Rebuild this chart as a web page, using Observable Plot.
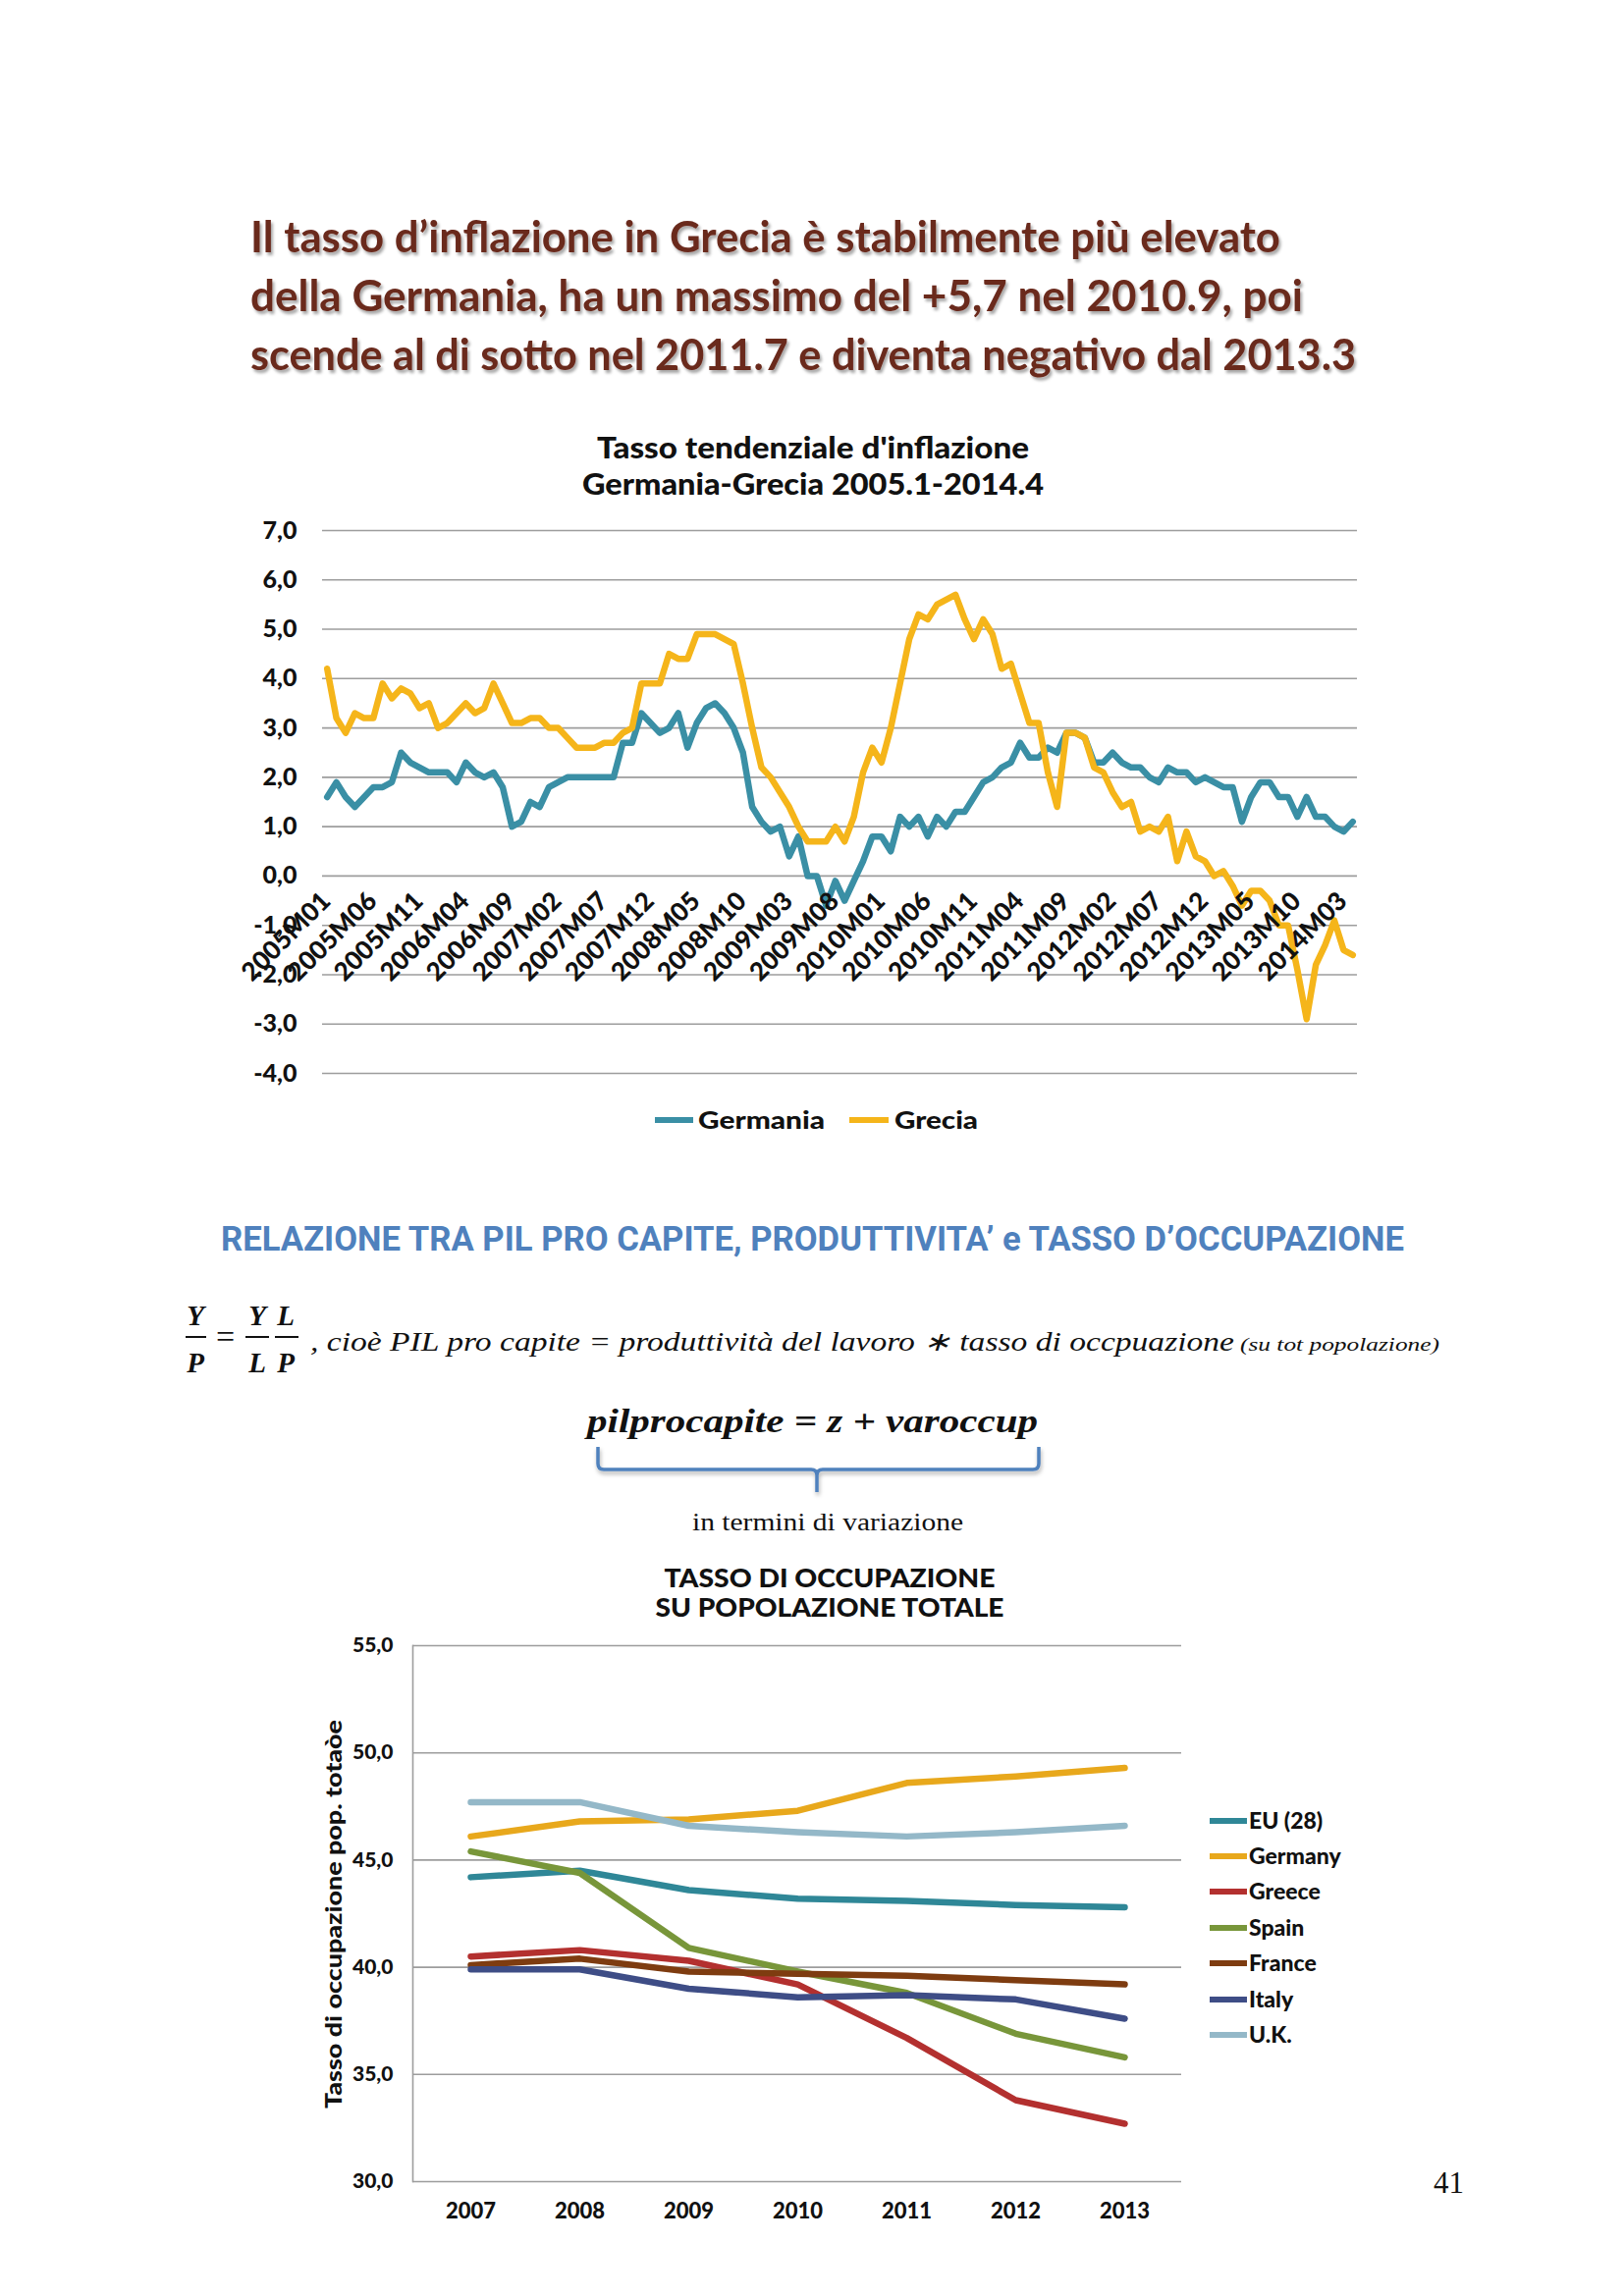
<!DOCTYPE html>
<html>
<head>
<meta charset="utf-8">
<script src="https://cdn.jsdelivr.net/npm/d3@7"></script>
<script src="https://cdn.jsdelivr.net/npm/@observablehq/plot@0.6"></script>
<style>
  html, body { margin: 0; padding: 0; background: #fff; }
  #page { position: relative; width: 1654px; height: 2339px; background: #fff; overflow: hidden; }
  .abs { position: absolute; left: 0; }
  #overlay { position: absolute; left: 0; top: 0; pointer-events: none; }
</style>
</head>
<body>
<div id="page">
  <div id="chart1" class="abs" style="top:520px"></div>
  <div id="chart2" class="abs" style="top:1660px"></div>
  <svg id="overlay" width="1654" height="2339" xmlns="http://www.w3.org/2000/svg">
    <defs>
      <filter id="shadow" x="-5%" y="-20%" width="110%" height="150%">
        <feDropShadow dx="2" dy="3" stdDeviation="1.5" flood-color="#000" flood-opacity="0.35"/>
      </filter>
      <filter id="shadow2" x="-5%" y="-30%" width="110%" height="170%">
        <feDropShadow dx="1" dy="3" stdDeviation="2" flood-color="#000" flood-opacity="0.3"/>
      </filter>
    </defs>
    <!-- page title -->
    <g font-family="Lato" font-weight="bold" font-size="43" fill="#6a2a1e" filter="url(#shadow)">
      <text x="255" y="257" textLength="1049" lengthAdjust="spacingAndGlyphs">Il tasso d’inflazione in Grecia è stabilmente più elevato</text>
      <text x="255" y="317" textLength="1072" lengthAdjust="spacingAndGlyphs">della Germania, ha un massimo del +5,7 nel  2010.9, poi</text>
      <text x="255" y="377" textLength="1126" lengthAdjust="spacingAndGlyphs">scende al di sotto nel 2011.7 e diventa negativo dal 2013.3</text>
    </g>
    <!-- chart 1 title -->
    <g font-family="Lato" font-weight="900" font-size="30" fill="#111" text-anchor="middle">
      <text x="828" y="467" textLength="440" lengthAdjust="spacingAndGlyphs">Tasso tendenziale d'inflazione</text>
      <text x="828" y="504" textLength="470" lengthAdjust="spacingAndGlyphs">Germania-Grecia 2005.1-2014.4</text>
    </g>
    <!-- chart 1 legend -->
    <g font-family="Lato" font-weight="900" font-size="25" fill="#111">
      <line x1="667" x2="706" y1="1141" y2="1141" stroke="#3a8fa5" stroke-width="6"/>
      <text x="711" y="1150" textLength="129" lengthAdjust="spacingAndGlyphs">Germania</text>
      <line x1="865" x2="905" y1="1141" y2="1141" stroke="#f5b51a" stroke-width="6"/>
      <text x="911" y="1150" textLength="85" lengthAdjust="spacingAndGlyphs">Grecia</text>
    </g>
    <!-- blue heading -->
    <text x="225" y="1274" font-family="Roboto" font-weight="bold" font-size="35" fill="#4f81bd" textLength="1205" lengthAdjust="spacingAndGlyphs">RELAZIONE TRA PIL PRO CAPITE, PRODUTTIVITA’ e TASSO D’OCCUPAZIONE</text>
    <!-- formula -->
    <g font-family="Liberation Serif" font-style="italic" fill="#111">
      <g font-weight="bold" font-size="29" text-anchor="middle">
        <text x="199" y="1350">Y</text>
        <text x="199" y="1398">P</text>
        <text x="262" y="1350">Y</text>
        <text x="291" y="1350">L</text>
        <text x="262" y="1398">L</text>
        <text x="291" y="1398">P</text>
      </g>
      <line x1="189" x2="210" y1="1362" y2="1362" stroke="#111" stroke-width="2"/>
      <line x1="250" x2="274" y1="1362" y2="1362" stroke="#111" stroke-width="2"/>
      <line x1="280" x2="304" y1="1362" y2="1362" stroke="#111" stroke-width="2"/>
      <text x="220" y="1373" font-style="normal" font-size="34">=</text>
      <text x="316" y="1376" font-size="27" textLength="941" lengthAdjust="spacingAndGlyphs">, cioè PIL pro capite = produttività del lavoro ∗ tasso di occpuazione</text>
      <text x="1263" y="1376" font-size="19" textLength="203" lengthAdjust="spacingAndGlyphs">(su tot popolazione)</text>
      <text x="598" y="1459" font-weight="bold" font-size="33" textLength="459" lengthAdjust="spacingAndGlyphs">pilprocapite = z + varoccup</text>
    </g>
    <!-- brace -->
    <path d="M609,1474 L609,1491 Q609,1497 615,1497 L826,1497 Q832,1497 832,1503 L832,1520 M832,1503 Q832,1497 838,1497 L1052,1497 Q1058,1497 1058,1491 L1058,1474" fill="none" stroke="#4f81bd" stroke-width="3.5" filter="url(#shadow2)"/>
    <text x="843" y="1559" text-anchor="middle" font-family="Liberation Serif" font-size="25" fill="#111" textLength="276" lengthAdjust="spacingAndGlyphs">in termini di variazione</text>
    <!-- chart 2 title -->
    <g font-family="Lato" font-weight="900" font-size="26" fill="#111" text-anchor="middle">
      <text x="845" y="1617" textLength="337" lengthAdjust="spacingAndGlyphs">TASSO DI OCCUPAZIONE</text>
      <text x="845" y="1647" textLength="355" lengthAdjust="spacingAndGlyphs">SU POPOLAZIONE TOTALE</text>
    </g>
    <!-- chart 2 y title -->
    <text transform="translate(348,1950) rotate(-90)" text-anchor="middle" font-family="Lato" font-weight="900" font-size="23" fill="#111" textLength="396" lengthAdjust="spacingAndGlyphs">Tasso di occupazione pop. totaòe</text>
    <!-- chart 2 legend -->
    <g id="legend2" font-family="Lato" font-weight="900" font-size="23" fill="#111"></g>
    <!-- page number -->
    <text x="1460" y="2234" font-family="Liberation Serif" font-size="31" fill="#111">41</text>
  </svg>
</div>
<script>
// ---------- Chart 1 data: monthly inflation 2005M01 - 2014M04 ----------
const months = [];
for (let y = 2005; y <= 2014; y++) {
  for (let m = 1; m <= 12; m++) {
    if (y === 2014 && m > 4) break;
    months.push(`${y}M${String(m).padStart(2, "0")}`);
  }
}
const germania = [
  1.6, 1.9, 1.6, 1.4, 1.6, 1.8, 1.8, 1.9, 2.5, 2.3, 2.2, 2.1,
  2.1, 2.1, 1.9, 2.3, 2.1, 2.0, 2.1, 1.8, 1.0, 1.1, 1.5, 1.4,
  1.8, 1.9, 2.0, 2.0, 2.0, 2.0, 2.0, 2.0, 2.7, 2.7, 3.3, 3.1,
  2.9, 3.0, 3.3, 2.6, 3.1, 3.4, 3.5, 3.3, 3.0, 2.5, 1.4, 1.1,
  0.9, 1.0, 0.4, 0.8, 0.0, 0.0, -0.6, -0.1, -0.5, -0.1, 0.3, 0.8,
  0.8, 0.5, 1.2, 1.0, 1.2, 0.8, 1.2, 1.0, 1.3, 1.3, 1.6, 1.9,
  2.0, 2.2, 2.3, 2.7, 2.4, 2.4, 2.6, 2.5, 2.9, 2.9, 2.8, 2.3,
  2.3, 2.5, 2.3, 2.2, 2.2, 2.0, 1.9, 2.2, 2.1, 2.1, 1.9, 2.0,
  1.9, 1.8, 1.8, 1.1, 1.6, 1.9, 1.9, 1.6, 1.6, 1.2, 1.6, 1.2,
  1.2, 1.0, 0.9, 1.1
];
const grecia = [
  4.2, 3.2, 2.9, 3.3, 3.2, 3.2, 3.9, 3.6, 3.8, 3.7, 3.4, 3.5,
  3.0, 3.1, 3.3, 3.5, 3.3, 3.4, 3.9, 3.5, 3.1, 3.1, 3.2, 3.2,
  3.0, 3.0, 2.8, 2.6, 2.6, 2.6, 2.7, 2.7, 2.9, 3.0, 3.9, 3.9,
  3.9, 4.5, 4.4, 4.4, 4.9, 4.9, 4.9, 4.8, 4.7, 3.9, 3.0, 2.2,
  2.0, 1.7, 1.4, 1.0, 0.7, 0.7, 0.7, 1.0, 0.7, 1.2, 2.1, 2.6,
  2.3, 3.0, 3.9, 4.8, 5.3, 5.2, 5.5, 5.6, 5.7, 5.2, 4.8, 5.2,
  4.9, 4.2, 4.3, 3.7, 3.1, 3.1, 2.1, 1.4, 2.9, 2.9, 2.8, 2.2,
  2.1, 1.7, 1.4, 1.5, 0.9, 1.0, 0.9, 1.2, 0.3, 0.9, 0.4, 0.3,
  0.0, 0.1, -0.2, -0.6, -0.3, -0.3, -0.5, -1.0, -1.0, -1.9, -2.9, -1.8,
  -1.4, -0.9, -1.5, -1.6
];
const series1 = ["Germania", "Grecia"];
const colors1 = ["#3a8fa5", "#f5b51a"];
const yTicks1 = [-4, -3, -2, -1, 0, 1, 2, 3, 4, 5, 6, 7];
const monthTicks = months.filter((d, i) => i % 5 === 0);

// ---------- Chart 2 data: employment rate on total population ----------
const years = ["2007", "2008", "2009", "2010", "2011", "2012", "2013"];
const countries = ["EU (28)", "Germany", "Greece", "Spain", "France", "Italy", "U.K."];
const eu28    = [44.2, 44.5, 43.6, 43.2, 43.1, 42.9, 42.8];
const germany = [46.1, 46.8, 46.9, 47.3, 48.6, 48.9, 49.3];
const greece  = [40.5, 40.8, 40.3, 39.2, 36.7, 33.8, 32.7];
const spain   = [45.4, 44.4, 40.9, 39.8, 38.8, 36.9, 35.8];
const france  = [40.1, 40.4, 39.8, 39.7, 39.6, 39.4, 39.2];
const italy   = [39.9, 39.9, 39.0, 38.6, 38.7, 38.5, 37.6];
const uk      = [47.7, 47.7, 46.6, 46.3, 46.1, 46.3, 46.6];
const colors2 = ["#2f8797", "#e8a81c", "#b3302f", "#78963a", "#7e3c10", "#3e4d86", "#94b8c8"];
const yTicks2 = [30, 35, 40, 45, 50, 55];

const fmt = d => d.toFixed(1).replace(".", ",");

// ---------- Chart 1 ----------
const data1 = months.flatMap((m, i) => [
  {month: m, value: germania[i], series: "Germania"},
  {month: m, value: grecia[i], series: "Grecia"}
]);
const chart1 = Plot.plot({
  width: 1654, height: 600,
  marginLeft: 328, marginRight: 272, marginTop: 20, marginBottom: 27,
  style: {fontFamily: "Lato", background: "transparent", overflow: "visible"},
  x: {type: "point", domain: months, padding: 0.5, axis: null},
  y: {domain: [-4, 7], axis: null},
  color: {domain: series1, range: colors1},
  marks: [
    Plot.gridY(yTicks1, {stroke: "#9d9d9d", strokeOpacity: 1, strokeWidth: 1.6}),
    Plot.axisY(yTicks1, {tickSize: 0, tickPadding: 26, tickFormat: fmt, fontSize: 25, fontWeight: 900, fill: "#111", label: null}),
    Plot.line(data1, {x: "month", y: "value", z: "series", stroke: "series", strokeWidth: 6.5, strokeLinejoin: "round", strokeLinecap: "round"}),
    Plot.text(monthTicks, {x: d => d, y: () => 0, text: d => d, rotate: -45, textAnchor: "end", lineAnchor: "top", dx: -8, dy: 14, fontSize: 26, fontWeight: 900, fill: "#111"})
  ]
});
document.getElementById("chart1").appendChild(chart1);

// ---------- Chart 2 ----------
const seriesVals = [eu28, germany, greece, spain, france, italy, uk];
const data2 = countries.flatMap((c, k) => years.map((y, i) => ({year: y, value: seriesVals[k][i], country: c})));
const chart2 = Plot.plot({
  width: 1654, height: 620,
  marginLeft: 420, marginRight: 451, marginTop: 16, marginBottom: 58,
  style: {fontFamily: "Lato", background: "transparent", overflow: "visible"},
  x: {type: "point", domain: years, padding: 0.5, axis: null},
  y: {domain: [30, 55], axis: null},
  color: {domain: countries, range: colors2},
  marks: [
    Plot.gridY(yTicks2, {stroke: "#9d9d9d", strokeOpacity: 1, strokeWidth: 1.6}),
    Plot.frame({anchor: "left", stroke: "#9d9d9d", strokeWidth: 1.6}),
    Plot.axisY(yTicks2, {tickSize: 0, tickPadding: 20, tickFormat: fmt, fontSize: 21, fontWeight: 900, fill: "#111", label: null}),
    Plot.axisX(years, {tickSize: 0, tickPadding: 22, fontSize: 22, fontWeight: 900, fill: "#111", label: null}),
    Plot.line(data2, {x: "year", y: "value", z: "country", stroke: "country", strokeWidth: 6.5, strokeLinejoin: "round"})
  ]
});
document.getElementById("chart2").appendChild(chart2);

// legend for chart 2 (drawn from the same arrays)
const lg = d3.select("#legend2");
const legendY = [1855, 1891, 1927, 1964, 2000, 2037, 2073];
countries.forEach((c, k) => {
  lg.append("line").attr("x1", 1232).attr("x2", 1270).attr("y1", legendY[k]).attr("y2", legendY[k])
    .attr("stroke", colors2[k]).attr("stroke-width", 6);
  lg.append("text").attr("x", 1272).attr("y", legendY[k] + 8).text(c);
});
</script>
</body>
</html>
